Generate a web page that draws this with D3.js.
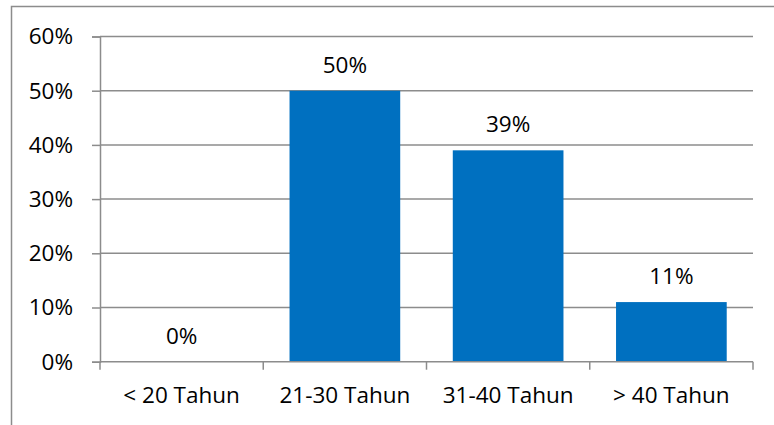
<!DOCTYPE html>
<html>
<head>
<meta charset="utf-8">
<script src="https://cdn.jsdelivr.net/npm/d3@7/dist/d3.min.js"></script>
<style>
  html, body { margin: 0; padding: 0; background: #fff; }
  svg { display: block; }
  text { font-family: "Open Sans", sans-serif; fill: #000; }
</style>
</head>
<body>
<svg id="chart" width="774" height="425"></svg>
<script>
// Age groups and their share of respondents
const categories = ["< 20 Tahun", "21-30 Tahun", "31-40 Tahun", "> 40 Tahun"];
const values = [0, 50, 39, 11];
const yTicks = [0, 10, 20, 30, 40, 50, 60];

const W = 774, H = 425;
const plot = { left: 100, right: 753, top: 36.5, bottom: 361.7 };
const fontSize = 22.5;

const svg = d3.select("#chart");

// outer chart frame (continues past the right and bottom edges)
svg.append("rect")
  .attr("x", 11.5).attr("y", 6.5)
  .attr("width", W + 20).attr("height", H + 20)
  .attr("fill", "none").attr("stroke", "#8c8c8c").attr("stroke-width", 1.5);

const x = d3.scaleBand().domain(categories).range([plot.left, plot.right]).padding(0);
const y = d3.scaleLinear().domain([0, 60]).range([plot.bottom, plot.top]);
const barW = x.bandwidth() * 0.678;

// horizontal gridlines
svg.append("g").selectAll("line")
  .data(yTicks.filter(d => d > 0))
  .join("line")
  .attr("x1", plot.left).attr("x2", plot.right)
  .attr("y1", d => y(d)).attr("y2", d => y(d))
  .attr("stroke", "#8c8c8c").attr("stroke-width", 1.5);

// bars
svg.append("g").selectAll("rect")
  .data(values)
  .join("rect")
  .attr("x", (d, i) => x(categories[i]) + (x.bandwidth() - barW) / 2)
  .attr("y", d => y(d))
  .attr("width", barW)
  .attr("height", d => y(0) - y(d))
  .attr("fill", "#0070c0");

// y axis
const yAxis = svg.append("g")
  .attr("transform", `translate(${plot.left},0)`)
  .call(d3.axisLeft(y).tickValues(yTicks).tickFormat(d => d + "%").tickSize(8).tickPadding(19));
yAxis.select(".domain").attr("stroke", "#8c8c8c").attr("stroke-width", 1.5);
yAxis.selectAll(".tick line").attr("stroke", "#8c8c8c").attr("stroke-width", 1.5);
yAxis.selectAll(".tick text")
  .attr("font-size", fontSize).attr("font-family", "'Open Sans', sans-serif").attr("fill", "#000")
  .attr("dy", "0.33em");

// x axis with ticks at category boundaries
const xAxisG = svg.append("g").attr("transform", `translate(0,${plot.bottom})`);
xAxisG.append("line")
  .attr("x1", plot.left).attr("x2", plot.right)
  .attr("stroke", "#8c8c8c").attr("stroke-width", 1.5);
const bounds = categories.map(c => x(c)).concat([plot.right]);
xAxisG.selectAll("line.tk")
  .data(bounds)
  .join("line").attr("class", "tk")
  .attr("x1", d => d).attr("x2", d => d)
  .attr("y1", 0).attr("y2", 8)
  .attr("stroke", "#8c8c8c").attr("stroke-width", 1.5);
xAxisG.selectAll("text")
  .data(categories)
  .join("text")
  .attr("x", d => x(d) + x.bandwidth() / 2)
  .attr("y", 41)
  .attr("text-anchor", "middle")
  .attr("font-size", fontSize)
  .text(d => d);

// value labels above bars
svg.append("g").selectAll("text")
  .data(values)
  .join("text")
  .attr("x", (d, i) => x(categories[i]) + x.bandwidth() / 2)
  .attr("y", d => y(d) - 18)
  .attr("text-anchor", "middle")
  .attr("font-size", fontSize)
  .text(d => d + "%");
</script>
</body>
</html>
